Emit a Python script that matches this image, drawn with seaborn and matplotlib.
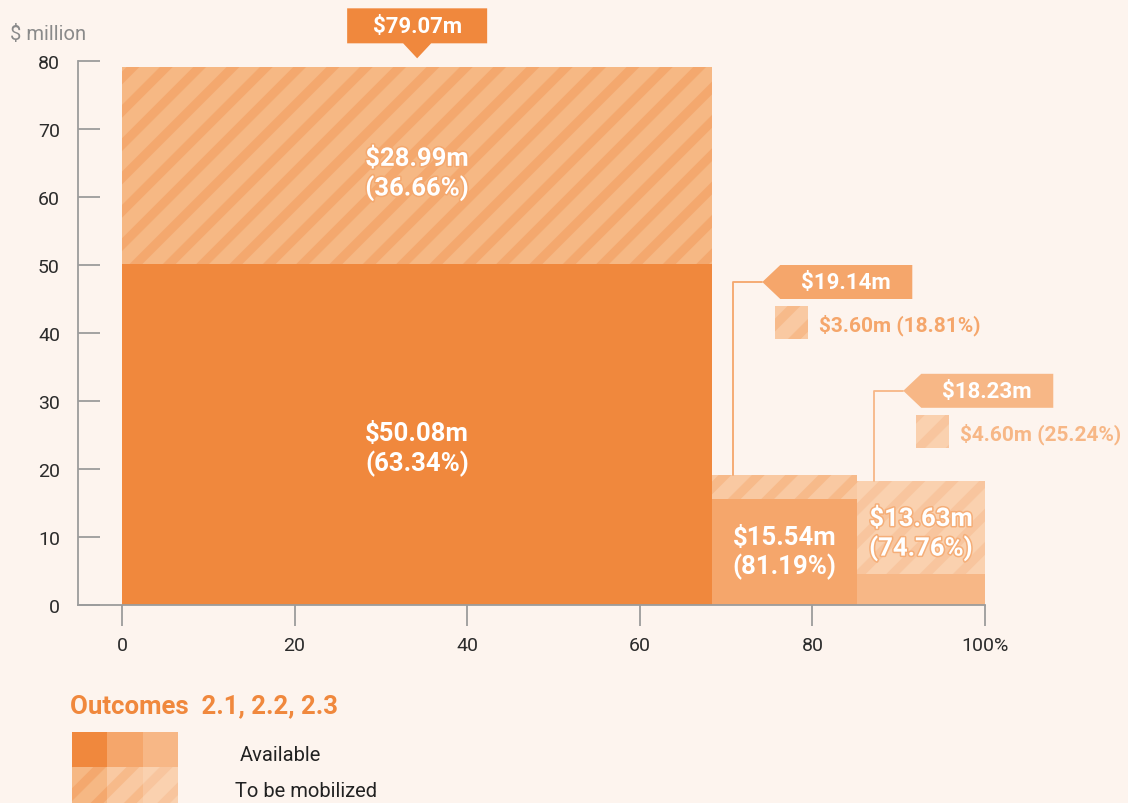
import matplotlib
matplotlib.use('Agg')
from matplotlib import pyplot as plt
from matplotlib.patches import Polygon, Rectangle
import matplotlib.patheffects as pe
import seaborn as sns

# Outcomes 2.1, 2.2, 2.3 ($ million)
outcomes = ['2.1', '2.2', '2.3']
totals = [79.07, 19.14, 18.23]
available = [50.08, 15.54, 13.63]
mobilize = [28.99, 3.60, 4.60]
available_pct = [63.34, 81.19, 74.76]
mobilize_pct = [36.66, 18.81, 25.24]
col_share = [68.4, 16.8, 14.8]   # column widths, % of the x axis
x_ticks = [0, 20, 40, 60, 80, 100]
x_labels = ['0', '20', '40', '60', '80', '100%']
y_ticks = [0, 10, 20, 30, 40, 50, 60, 70, 80]

bg = '#FDF4EE'
solid = ['#F0883D', '#F5A66B', '#F7B786']
hatch_bg = ['#F6B884', '#F9C9A2', '#FAD1AF']
hatch_fg = ['#F4A86E', '#F7BA8A', '#F8C59E']

sns.set_style('white')
plt.rcParams['font.family'] = ['Roboto', 'DejaVu Sans']
plt.rcParams['hatch.linewidth'] = 6.5

W, H = 1128, 804
fig = plt.figure(figsize=(W / 100, H / 100), dpi=100, facecolor=bg)
ax = fig.add_axes([78 / W, 1 - 606 / H, (985 - 78) / W, (606 - 62) / H])
ax.set_facecolor(bg)

lefts = [sum(col_share[:i]) for i in range(len(col_share))]
centers = [l + w / 2 for l, w in zip(lefts, col_share)]

# third column is drawn with its two parts swapped, as in the source
low = available[:2] + mobilize[2:]
high = mobilize[:2] + available[2:]

ax.bar(lefts, low, width=col_share, align='edge', color=solid, linewidth=0, zorder=2)
for i in range(3):
    ax.bar(lefts[i], high[i], width=col_share[i], bottom=low[i], align='edge',
           color=hatch_bg[i], edgecolor=hatch_fg[i], hatch='/', linewidth=0, zorder=2)

# labels inside the columns
lab = dict(color='white', fontsize=18.5, fontweight='bold', ha='center', va='center',
           linespacing=1.2, zorder=4)
ax.text(centers[0], available[0] / 2 - 2.0, f'${available[0]:.2f}m\n({available_pct[0]:.2f}%)', **lab)
ax.text(centers[0], available[0] + mobilize[0] / 2 - 1.2, f'${mobilize[0]:.2f}m\n({mobilize_pct[0]:.2f}%)',
        path_effects=[pe.withStroke(linewidth=2.2, foreground=hatch_fg[0])], **lab)
ax.text(centers[1], available[1] / 2, f'${available[1]:.2f}m\n({available_pct[1]:.2f}%)', **lab)
ax.text(centers[2], low[2] + high[2] / 2 - 1.0, f'${available[2]:.2f}m\n({available_pct[2]:.2f}%)',
        path_effects=[pe.withStroke(linewidth=2.2, foreground='#F5AE78')], **lab)

ax.set_xlim(-5.1, 100)
ax.set_ylim(0, 80)
ax.set_xticks(x_ticks)
ax.set_xticklabels(x_labels)
ax.set_yticks(y_ticks)
for s in ['top', 'right']:
    ax.spines[s].set_visible(False)
for s in ['left', 'bottom']:
    ax.spines[s].set_color('#9c9c9c')
    ax.spines[s].set_linewidth(1.3)
ax.tick_params(axis='y', left=True, direction='in', length=16, width=1.3, color='#9c9c9c',
               pad=13, labelsize=14, labelcolor='#2b2b2b')
ax.tick_params(axis='x', bottom=True, direction='out', length=15, width=1.3, color='#9c9c9c',
               pad=7, labelsize=14, labelcolor='#2b2b2b')
fig.text(10 / W, 1 - 35 / H, '$ million', fontsize=14.5, color='#8a8a8a', va='center')

# overlay in pixel coordinates for callouts and legend
ov = fig.add_axes([0, 0, 1, 1], zorder=5)
ov.set_xlim(0, W)
ov.set_ylim(H, 0)
ov.axis('off')
ov.patch.set_alpha(0)


def to_px(x, y):
    X, Y = ax.transData.transform((x, y))
    return X, H - Y


# total for column 1
cx, top = to_px(centers[0], totals[0])
ov.add_patch(Polygon([(cx - 70, top - 59), (cx + 70, top - 59), (cx + 70, top - 24),
                      (cx + 14, top - 24), (cx, top - 9), (cx - 14, top - 24),
                      (cx - 70, top - 24)], closed=True, color=solid[0], lw=0))
ov.text(cx, top - 41, f'${totals[0]:.2f}m', color='white', fontsize=16,
        fontweight='bold', ha='center', va='center')

# totals for columns 2 and 3
callout_y = [47.5, 31.5]
line_off = [21, 17]
for k, i in enumerate([1, 2]):
    lx = to_px(lefts[i], 0)[0] + line_off[k]
    top = to_px(0, totals[i])[1]
    cy = to_px(0, callout_y[k])[1]
    ov.plot([lx, lx, lx + 29], [top, cy, cy], color=solid[i], lw=1.3)
    ov.add_patch(Polygon([(lx + 29, cy), (lx + 47, cy - 17), (lx + 179, cy - 17),
                          (lx + 179, cy + 17), (lx + 47, cy + 17)],
                         closed=True, color=solid[i], lw=0))
    ov.text(lx + 113, cy, f'${totals[i]:.2f}m', color='white', fontsize=16,
            fontweight='bold', ha='center', va='center')
    ov.add_patch(Rectangle((lx + 42, cy + 24), 33, 33, facecolor=hatch_bg[i],
                           edgecolor=hatch_fg[i], hatch='/', lw=0))
    ov.text(lx + 86, cy + 42, f'${mobilize[i]:.2f}m ({mobilize_pct[i]:.2f}%)',
            color=solid[i], fontsize=15, fontweight='bold', ha='left', va='center')

# legend
ov.text(70, 706, 'Outcomes  ' + ', '.join(outcomes), color=solid[0], fontsize=18.5,
        fontweight='bold', ha='left', va='center')
sq = 35.4
for i in range(3):
    ov.add_patch(Rectangle((72 + i * sq, 733), sq, sq, color=solid[i], lw=0))
    ov.add_patch(Rectangle((72 + i * sq, 733 + sq), sq, sq, facecolor=hatch_bg[i],
                           edgecolor=hatch_fg[i], hatch='/', lw=0))
ov.text(240, 756, 'Available', fontsize=14.5, color='#222222', ha='left', va='center')
ov.text(235, 792, 'To be mobilized', fontsize=14.5, color='#222222', ha='left', va='center')

fig.savefig('out.png', dpi=100, facecolor=bg)
